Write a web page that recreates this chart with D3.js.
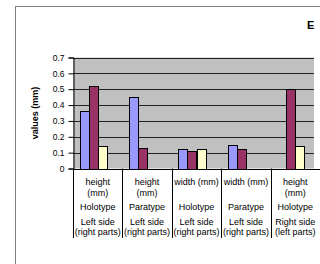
<!DOCTYPE html>
<html>
<head>
<meta charset="utf-8">
<script src="https://cdn.jsdelivr.net/npm/d3@7"></script>
<style>
  body { margin: 0; background: #fff; }
  svg { display: block; font-family: Arial, "Liberation Sans", sans-serif; }
</style>
</head>
<body>
<div id="chart"></div>
<script>
// category labels, one array per table row
const rowMeasure = ["height\n(mm)", "height\n(mm)", "width (mm)", "width (mm)", "height\n(mm)"];
const rowType = ["Holotype", "Paratype", "Holotype", "Paratype", "Holotype"];
const rowSide = ["Left side\n(right parts)", "Left side\n(right parts)", "Left side\n(right parts)", "Left side\n(right parts)", "Right side\n(left parts)"];

const seriesNames = ["s1", "s2", "s3", "s4"];
const seriesColors = ["#9999FF", "#993366", "#FFFFCC", "#CCFFFF"];
const s1 = [0.36, 0.45, 0.12, 0.15, null];
const s2 = [0.52, 0.13, 0.11, 0.12, 0.50];
const s3 = [0.14, null, 0.12, null, 0.14];
const s4 = [null, null, null, null, null];
const yTicks = [0, 0.1, 0.2, 0.3, 0.4, 0.5, 0.6, 0.7];
const chartTitle = "E";
const yLabel = "values (mm)";

const W = 320, H = 264;
const plot = {left: 73, top: 57.5, bottom: 168.5, right: 314};

const svg = d3.select("#chart").append("svg")
    .attr("width", W).attr("height", H);

// outer chart border (cut off at right and bottom)
svg.append("rect")
    .attr("x", 15.5).attr("y", 6.5)
    .attr("width", 400).attr("height", 400)
    .attr("fill", "none").attr("stroke", "#808080").attr("stroke-width", 1);

svg.append("text")
    .attr("x", 307).attr("y", 29)
    .attr("font-size", "11px").attr("font-weight", "bold")
    .text(chartTitle);

const idx = rowType.map((d, i) => i);
const x = d3.scaleBand().domain(idx).range([plot.left, 320]);
const xs = d3.scaleBand().domain(seriesNames).range([0, x.bandwidth()]).paddingOuter(0.74).paddingInner(0);
const y = d3.scaleLinear().domain([0, 0.7]).range([plot.bottom, plot.top]);

// plot background
svg.append("rect")
    .attr("x", plot.left).attr("y", plot.top)
    .attr("width", plot.right - plot.left).attr("height", plot.bottom - plot.top)
    .attr("fill", "#C0C0C0");

// gridlines
svg.append("g")
    .selectAll("line")
    .data(yTicks.slice(1))
    .enter()
    .append("line")
        .attr("x1", plot.left).attr("x2", plot.right)
        .attr("y1", d => Math.round(y(d)) + 0.5).attr("y2", d => Math.round(y(d)) + 0.5)
        .attr("stroke", "#222").attr("stroke-width", 1);

// bars
const allSeries = [s1, s2, s3, s4];
allSeries.forEach((vals, si) => {
    svg.append("g")
        .selectAll("rect")
        .data(vals.map((v, i) => ({i: i, v: v})).filter(d => d.v != null))
        .enter()
        .append("rect")
            .attr("x", d => Math.round(x(d.i) + xs(seriesNames[si])) + 0.5)
            .attr("y", d => Math.round(y(d.v)) + 0.5)
            .attr("width", Math.round(xs.bandwidth()))
            .attr("height", d => Math.round(y(0)) - Math.round(y(d.v)))
            .attr("fill", seriesColors[si])
            .attr("stroke", "#000").attr("stroke-width", 1);
});

// y axis
const yAxis = svg.append("g")
    .attr("transform", `translate(${plot.left + 0.5},0)`)
    .call(d3.axisLeft(y).tickValues(yTicks).tickSize(5).tickPadding(4).tickFormat(d => d === 0 ? "0" : d3.format(".1f")(d)));
yAxis.select(".domain").attr("stroke", "#000");
yAxis.selectAll("text").attr("font-size", "8.5px").attr("fill", "#000").attr("font-family", "Arial, 'Liberation Sans', sans-serif");

svg.append("text")
    .attr("transform", `translate(38,${(plot.top + plot.bottom) / 2}) rotate(-90)`)
    .attr("text-anchor", "middle")
    .attr("font-size", "9px").attr("font-weight", "bold")
    .text(yLabel);

// category table below the plot
svg.append("line")
    .attr("x1", plot.left).attr("x2", 320)
    .attr("y1", Math.round(y(0)) + 0.5).attr("y2", Math.round(y(0)) + 0.5)
    .attr("stroke", "#000");

const seps = idx.map(i => x(i));
svg.append("g")
    .selectAll("line")
    .data(seps)
    .enter()
    .append("line")
        .attr("x1", d => Math.round(d) + 0.5).attr("x2", d => Math.round(d) + 0.5)
        .attr("y1", plot.bottom).attr("y2", 238)
        .attr("stroke", "#000");

function drawRow(labels, y0) {
    const g = svg.append("g");
    labels.forEach((lab, i) => {
        const t = g.append("text")
            .attr("x", x(i) + x.bandwidth() / 2)
            .attr("y", y0)
            .attr("text-anchor", "middle")
            .attr("font-size", "9px");
        lab.split("\n").forEach((ln, k) => {
            t.append("tspan").attr("x", x(i) + x.bandwidth() / 2).attr("dy", k === 0 ? 0 : 10.5).text(ln);
        });
    });
}
drawRow(rowMeasure, 185);
drawRow(rowType, 209.5);
drawRow(rowSide, 224.5);
</script>
</body>
</html>
